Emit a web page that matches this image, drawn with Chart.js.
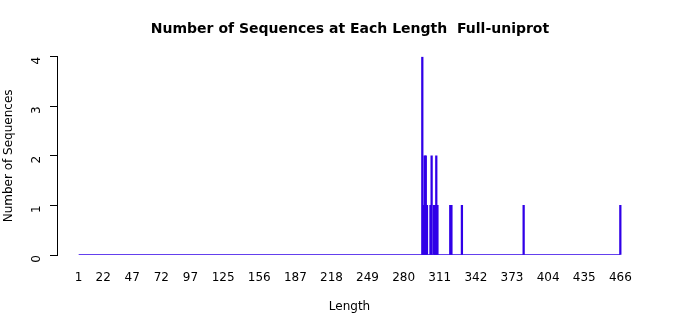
<!DOCTYPE html>
<html>
<head>
<meta charset="utf-8">
<script src="https://cdn.jsdelivr.net/npm/chart.js@4/dist/chart.umd.min.js"></script>
<style>
  html, body { margin: 0; padding: 0; background: #fff; }
  #wrap { width: 700px; height: 315px; }
</style>
</head>
<body>
<div id="wrap"><canvas id="chart" width="700" height="315"></canvas></div>
<script>
// sequence lengths and how many sequences have that length
const lengths = [296, 297, 298, 299, 300, 303, 304, 306, 307, 308, 309, 320, 321, 330, 383, 466]
const counts  = [4, 1, 2, 2, 1, 1, 2, 1, 1, 2, 1, 1, 1, 1, 1, 1]

// axis labels as printed
const xTicks = [1, 22, 47, 72, 97, 125, 156, 187, 218, 249, 280, 311, 342, 373, 404, 435, 466]
const yTicks = [0, 1, 2, 3, 4]
const lengthRange = [1, 466]

const blue = '#3000e8'
const font = 'DejaVu Sans'

let zip = (a, b) => a.map((x, i) => ({ x: x, y: b[i] }))

// R-style 4% padding of the x range
const span = lengthRange[1] - lengthRange[0]
const xMin = lengthRange[0] - span * 0.04
const xMax = lengthRange[1] + span * 0.04

const ctx = document.getElementById('chart')
new Chart(ctx, {
  type: 'bar',
  data: {
    datasets: [{
      type: 'line',
      data: lengthRange.map(x => ({ x: x, y: 0 })),
      borderColor: blue,
      borderWidth: 1.5,
      pointRadius: 0,
      order: 2
    }, {
      type: 'bar',
      data: zip(lengths, counts),
      backgroundColor: blue,
      borderWidth: 0,
      barThickness: 1.6,
      grouped: false,
      order: 1
    }]
  },
  options: {
    responsive: false,
    animation: false,
    layout: { padding: 0 },
    plugins: {
      legend: { display: false },
      tooltip: { enabled: false },
      title: {
        display: true,
        text: 'Number of Sequences at Each Length  Full-uniprot',
        color: '#000',
        font: { family: font, size: 14, weight: 'bold' },
        padding: { top: 21, bottom: 19 }
      }
    },
    scales: {
      x: {
        type: 'linear',
        offset: false,
        min: xMin,
        max: xMax,
        afterBuildTicks: s => { s.ticks = xTicks.map(v => ({ value: v })) },
        afterFit: s => { s.height = 60 },
        ticks: {
          color: '#000',
          font: { family: font, size: 12 },
          padding: 16,
          maxRotation: 0,
          autoSkip: false
        },
        grid: { display: false, drawTicks: false },
        border: { display: false },
        title: {
          display: true,
          text: 'Length',
          color: '#000',
          font: { family: font, size: 12 },
          padding: { top: 0, bottom: 1 }
        }
      },
      y: {
        min: 0,
        max: 4,
        afterBuildTicks: s => { s.ticks = yTicks.map(v => ({ value: v })) },
        afterFit: s => { s.width = 57 },
        ticks: {
          color: '#000',
          font: { family: font, size: 12 },
          minRotation: 90,
          maxRotation: 90,
          padding: 13
        },
        grid: {
          drawOnChartArea: false,
          drawTicks: true,
          tickLength: 7,
          tickColor: '#000'
        },
        border: { display: true, color: '#000', width: 1 },
        title: {
          display: true,
          text: 'Number of Sequences',
          color: '#000',
          font: { family: font, size: 12 },
          padding: { top: 2, bottom: 0 }
        }
      },
      // empty right margin, keeps the plot where R put it
      yRight: {
        position: 'right',
        min: 0,
        max: 4,
        afterFit: s => { s.width = 58 },
        ticks: { display: false },
        grid: { display: false },
        border: { display: false }
      }
    }
  }
})
</script>
</body>
</html>
